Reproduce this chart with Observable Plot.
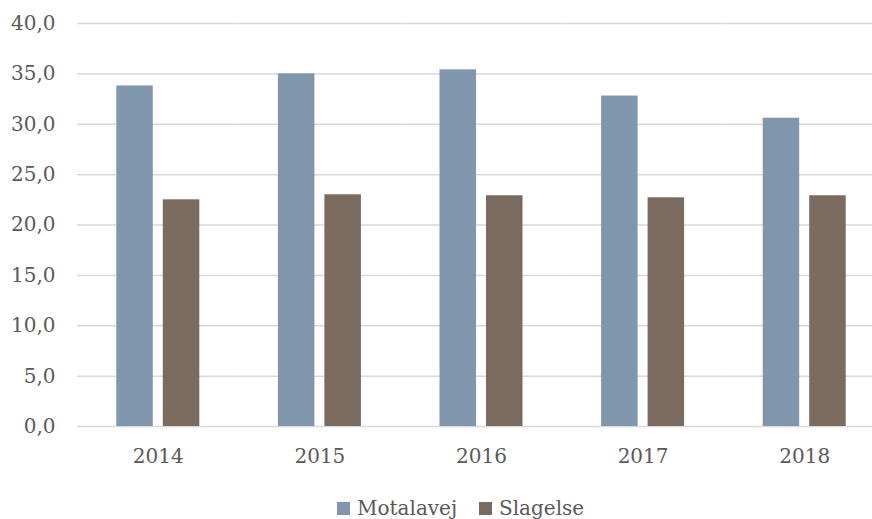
<!DOCTYPE html>
<html>
<head>
<meta charset="utf-8">
<script src="https://cdn.jsdelivr.net/npm/d3@7"></script>
<script src="https://cdn.jsdelivr.net/npm/@observablehq/plot@0.6"></script>
<style>
  html, body { margin: 0; padding: 0; background: #fff; overflow: hidden; }
  #wrap { width: 872px; height: 519px; }
  #chart svg, #legend svg { display: block; }
</style>
</head>
<body>
<div id="wrap"><div id="chart"></div><div id="legend"></div></div>
<script>
const years = ["2014", "2015", "2016", "2017", "2018"];
const series = ["Motalavej", "Slagelse"];
const motalavej = [33.8, 35.0, 35.4, 32.8, 30.6];
const slagelse = [22.5, 23.0, 22.9, 22.7, 22.9];
const colors = ["#8096ac", "#7b6a5e"];
const yTicks = [0, 5, 10, 15, 20, 25, 30, 35, 40];

const rows = [];
years.forEach((yr, i) => {
  rows.push({year: yr, series: series[0], value: motalavej[i]});
  rows.push({year: yr, series: series[1], value: slagelse[i]});
});

const fmt = d => d.toFixed(1).replace(".", ",");
const FONT = "DejaVu Serif";

const chart = Plot.plot({
  width: 872,
  height: 480,
  marginLeft: 77,
  marginRight: -13,
  marginTop: 23,
  marginBottom: 54,
  style: {fontFamily: FONT, fontSize: "20px", color: "#595959", background: "#fff", overflow: "visible"},
  fx: {domain: years, paddingInner: 0, paddingOuter: 0, round: false, label: null, axis: "bottom", tickSize: 0, tickPadding: 22},
  x: {domain: series, paddingInner: 0.215, paddingOuter: 0.845, round: false, axis: null},
  y: {domain: [0, 40], ticks: yTicks, tickFormat: fmt, tickSize: 0, tickPadding: 22, label: null},
  color: {domain: series, range: colors},
  marks: [
    Plot.ruleY(yTicks, {stroke: "#d9d9d9", strokeWidth: 1.5}),
    Plot.barY(rows, {fx: "year", x: "series", y: "value", fill: "series", inset: 0})
  ]
});
document.getElementById("chart").appendChild(chart);

// Legend below the chart, as its own small SVG
const lsvg = d3.select("#legend").append("svg")
  .attr("width", 872).attr("height", 39)
  .attr("font-family", FONT).attr("font-size", 20).attr("fill", "#595959");
const itemX = [337, 479];
series.forEach((s, i) => {
  const g = lsvg.append("g").attr("transform", `translate(${itemX[i]},0)`);
  g.append("rect").attr("x", 0).attr("y", 22).attr("width", 13).attr("height", 13).attr("fill", colors[i]);
  g.append("text").attr("x", 20).attr("y", 35).text(s);
});
</script>
</body>
</html>
